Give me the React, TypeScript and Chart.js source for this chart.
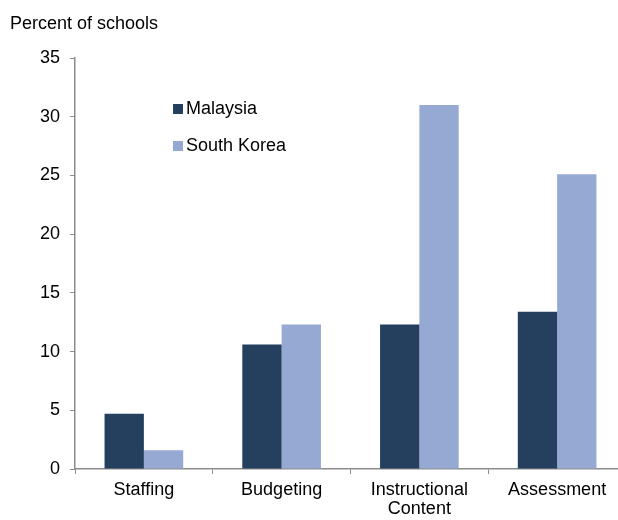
import React, { useEffect, useRef } from "react";
import { Chart, registerables } from "chart.js";

Chart.register(...registerables);

const categories: (string | string[])[] = ["Staffing", "Budgeting", ["Instructional", "Content"], "Assessment"];
const malaysia = [4.7, 10.6, 12.3, 13.4];
const southKorea = [1.6, 12.3, 31.0, 25.1];
const seriesNames = ["Malaysia", "South Korea"];
const seriesColors = ["#253F5F", "#95A9D2"];
const yTitle = "Percent of schools";

const FONT = "'Liberation Sans', Arial, sans-serif";

export default function App() {
  const ref = useRef<HTMLCanvasElement>(null);
  useEffect(() => {
    if (!ref.current) return;
    const overlay = {
      id: "overlay",
      afterDraw(chart: any) {
        const ctx = chart.ctx;
        ctx.save();
        ctx.fillStyle = "#000";
        ctx.font = `18px ${FONT}`;
        ctx.textBaseline = "alphabetic";
        ctx.textAlign = "left";
        ctx.fillText(yTitle, 10, 29);
        // legend
        const rows = [109, 146];
        seriesNames.forEach((n, i) => {
          ctx.fillStyle = seriesColors[i];
          ctx.fillRect(173, rows[i] - 5, 10, 10);
          ctx.fillStyle = "#000";
          ctx.textBaseline = "middle";
          ctx.fillText(n, 186, rows[i]);
        });
        ctx.restore();
      },
    };
    const chart = new Chart(ref.current, {
      type: "bar",
      data: {
        labels: categories as any,
        datasets: [
          { label: seriesNames[0], data: malaysia, backgroundColor: seriesColors[0], barPercentage: 1, categoryPercentage: 0.571 },
          { label: seriesNames[1], data: southKorea, backgroundColor: seriesColors[1], barPercentage: 1, categoryPercentage: 0.571 },
        ],
      },
      options: {
        responsive: false,
        animation: false,
        layout: { padding: { top: 58, right: 14, bottom: 0, left: 0 } },
        plugins: { legend: { display: false }, tooltip: { enabled: false }, title: { display: false } },
        scales: {
          x: {
            offset: true,
            grid: { offset: true, drawOnChartArea: false, drawTicks: true, tickLength: 5, color: "#8c8c8c" },
            border: { display: true, color: "#8c8c8c", width: 1.5 },
            ticks: { color: "#000", font: { family: FONT, size: 18, lineHeight: 1.02 }, padding: 7, maxRotation: 0, autoSkip: false },
            afterFit: (s: any) => { s.height = 51; },
          },
          y: {
            min: 0,
            max: 35,
            grid: { drawOnChartArea: false, drawTicks: true, tickLength: 5, color: "#8c8c8c" },
            border: { display: true, color: "#8c8c8c", width: 1.5 },
            ticks: { stepSize: 5, color: "#000", font: { family: FONT, size: 18 }, padding: 10 },
            afterFit: (s: any) => { s.width = 75; },
          },
        },
      },
      plugins: [overlay],
    });
    return () => chart.destroy();
  }, []);
  return (
    <div style={{ position: "absolute", left: 0, top: 0, width: 618, height: 520, overflow: "hidden", background: "#fff" }}>
      <canvas ref={ref} width={640} height={520} style={{ display: "block" }} />
    </div>
  );
}
